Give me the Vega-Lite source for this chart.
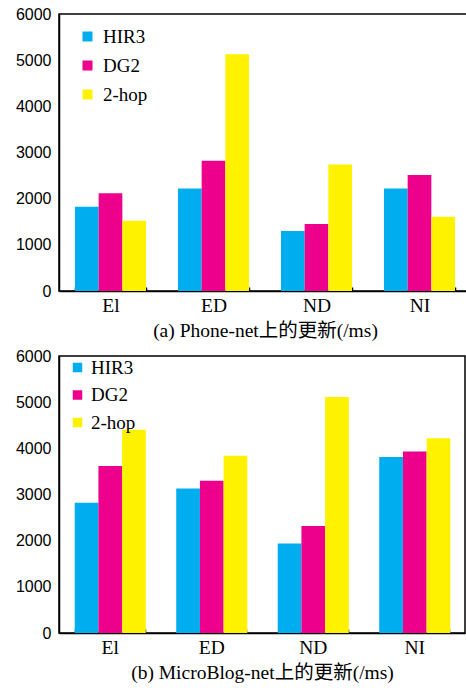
{
  "$schema": "https://vega.github.io/schema/vega-lite/v6.json",
  "padding": {"left": 8, "top": 5, "right": 0, "bottom": 0},
  "background": "white",
  "spacing": 6,
  "config": {
    "view": {"stroke": "black", "strokeWidth": 1.5},
    "axis": {"domainColor": "black", "domainWidth": 1.5, "labelColor": "black", "titleColor": "black", "grid": false},
    "legend": {"orient": "none", "title": null, "labelFont": "Liberation Serif", "labelColor": "black", "symbolType": "square", "symbolStrokeWidth": 0, "symbolOpacity": 1}
  },
  "datasets": {
    "phone": [
      {"metric": "El", "method": "HIR3", "value": 1825},
      {"metric": "El", "method": "DG2", "value": 2120},
      {"metric": "El", "method": "2-hop", "value": 1520},
      {"metric": "ED", "method": "HIR3", "value": 2220},
      {"metric": "ED", "method": "DG2", "value": 2820},
      {"metric": "ED", "method": "2-hop", "value": 5130},
      {"metric": "ND", "method": "HIR3", "value": 1300},
      {"metric": "ND", "method": "DG2", "value": 1450},
      {"metric": "ND", "method": "2-hop", "value": 2740},
      {"metric": "NI", "method": "HIR3", "value": 2220},
      {"metric": "NI", "method": "DG2", "value": 2510},
      {"metric": "NI", "method": "2-hop", "value": 1610}
    ],
    "micro": [
      {"metric": "El", "method": "HIR3", "value": 2820},
      {"metric": "El", "method": "DG2", "value": 3620},
      {"metric": "El", "method": "2-hop", "value": 4400},
      {"metric": "ED", "method": "HIR3", "value": 3130},
      {"metric": "ED", "method": "DG2", "value": 3300},
      {"metric": "ED", "method": "2-hop", "value": 3840},
      {"metric": "ND", "method": "HIR3", "value": 1940},
      {"metric": "ND", "method": "DG2", "value": 2320},
      {"metric": "ND", "method": "2-hop", "value": 5110},
      {"metric": "NI", "method": "HIR3", "value": 3810},
      {"metric": "NI", "method": "DG2", "value": 3930},
      {"metric": "NI", "method": "2-hop", "value": 4220}
    ]
  },
  "vconcat": [
    {
      "width": 412,
      "height": 277,
      "data": {"name": "phone"},
      "mark": {"type": "bar"},
      "encoding": {
        "x": {
          "field": "metric", "type": "nominal", "sort": ["El", "ED", "ND", "NI"],
          "scale": {"paddingInner": 0.31, "paddingOuter": 0.155},
          "axis": {"title": "(a) Phone-net上的更新(/ms)", "labelAngle": 0, "tickBand": "extent", "tickSize": -4, "tickColor": "black", "tickWidth": 1.5,
                   "labelFont": "Liberation Serif", "labelFontSize": 19.5, "labelPadding": 9,
                   "titleFont": "Liberation Serif, Noto Sans CJK SC", "titleFontSize": 19.5, "titleFontWeight": "normal", "titlePadding": 7}
        },
        "xOffset": {"field": "method", "type": "nominal", "sort": ["HIR3", "DG2", "2-hop"], "scale": {"paddingInner": 0, "paddingOuter": 0}},
        "y": {
          "field": "value", "type": "quantitative", "scale": {"domain": [0, 6000]},
          "axis": {"title": null, "values": [0, 1000, 2000, 3000, 4000, 5000, 6000], "format": "d", "ticks": false, "labelPadding": 8, "minExtent": 46,
                   "labelFont": "Liberation Sans", "labelFontSize": 16}
        },
        "color": {
          "field": "method", "type": "nominal", "sort": ["HIR3", "DG2", "2-hop"],
          "scale": {"domain": ["HIR3", "DG2", "2-hop"], "range": ["#00AEEF", "#EC008C", "#FFF200"]},
          "legend": {"legendX": 19, "legendY": 13, "labelFontSize": 19, "symbolSize": 100, "rowPadding": 9, "labelOffset": 6}
        }
      }
    },
    {
      "width": 406,
      "height": 277,
      "data": {"name": "micro"},
      "mark": {"type": "bar"},
      "encoding": {
        "x": {
          "field": "metric", "type": "nominal", "sort": ["El", "ED", "ND", "NI"],
          "scale": {"paddingInner": 0.31, "paddingOuter": 0.155},
          "axis": {"title": "(b) MicroBlog-net上的更新(/ms)", "labelAngle": 0, "tickBand": "extent", "tickSize": -4, "tickColor": "black", "tickWidth": 1.5,
                   "labelFont": "Liberation Serif", "labelFontSize": 19.5, "labelPadding": 9,
                   "titleFont": "Liberation Serif, Noto Sans CJK SC", "titleFontSize": 19.5, "titleFontWeight": "normal", "titlePadding": 7}
        },
        "xOffset": {"field": "method", "type": "nominal", "sort": ["HIR3", "DG2", "2-hop"], "scale": {"paddingInner": 0, "paddingOuter": 0}},
        "y": {
          "field": "value", "type": "quantitative", "scale": {"domain": [0, 6000]},
          "axis": {"title": null, "values": [0, 1000, 2000, 3000, 4000, 5000, 6000], "format": "d", "ticks": false, "labelPadding": 8, "minExtent": 50,
                   "labelFont": "Liberation Sans", "labelFontSize": 16}
        },
        "color": {
          "field": "method", "type": "nominal", "sort": ["HIR3", "DG2", "2-hop"],
          "scale": {"domain": ["HIR3", "DG2", "2-hop"], "range": ["#00AEEF", "#EC008C", "#FFF200"]},
          "legend": {"legendX": 9, "legendY": 2, "labelFontSize": 19, "symbolSize": 90, "rowPadding": 7.5, "labelOffset": 4}
        }
      }
    }
  ],
  "resolve": {"scale": {"color": "independent"}, "legend": {"color": "independent"}}
}
